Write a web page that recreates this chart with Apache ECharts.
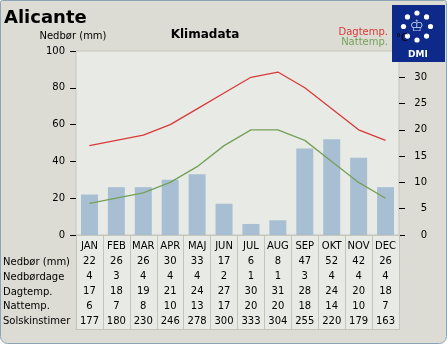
<!DOCTYPE html>
<html>
<head>
<meta charset="utf-8">
<script src="https://cdn.jsdelivr.net/npm/echarts@6/dist/echarts.min.js"></script>
<style>
html,body{margin:0;padding:0;background:#ffffff;}
#c{width:447px;height:344px;}
</style>
</head>
<body>
<div id="c"></div>
<script>
const months = ['JAN','FEB','MAR','APR','MAJ','JUN','JUL','AUG','SEP','OKT','NOV','DEC'];
const rain = [22,26,26,30,33,17,6,8,47,52,42,26];
const rainDays = [4,3,4,4,4,2,1,1,3,4,4,4];
const dayTemp = [17,18,19,21,24,27,30,31,28,24,20,18];
const nightTemp = [6,7,8,10,13,17,20,20,18,14,10,7];
const sunHours = [177,180,230,246,278,300,333,304,255,220,179,163];
const rowLabels = ['Nedbør (mm)','Nedbørdage','Dagtemp.','Nattemp.','Solskinstimer'];
const leftTicks = [0,20,40,60,80,100];
const rightTicks = [0,5,10,15,20,25,30];

const font = 'DejaVu Sans';
const chart = echarts.init(document.getElementById('c'), null, {renderer:'canvas'});

const graphics = [
  {type:'rect', z:-100, shape:{x:0.5,y:0.5,width:446,height:343,r:[2,2,7,7]},
   style:{fill:'#dcdcd4', stroke:'#8ea3b7', lineWidth:1}},
  {type:'rect', z:-50, shape:{x:76,y:235,width:323,height:94},
   style:{fill:'#e8eae5'}},
  {type:'line', z:5, shape:{x1:75,y1:329.5,x2:400,y2:329.5},
   style:{stroke:'#c4c4ba', lineWidth:1}},
  {type:'text', x:4, y:18, style:{text:'Alicante', font:'bold 18px "DejaVu Sans"', fill:'#000', verticalAlign:'middle'}},
  {type:'text', x:205, y:35, style:{text:'Klimadata', font:'bold 12px "DejaVu Sans"', fill:'#000', align:'center', verticalAlign:'middle'}},
  {type:'text', x:73, y:36, style:{text:'Nedbør (mm)', font:'10px "DejaVu Sans"', fill:'#000', align:'center', verticalAlign:'middle'}},
  {type:'text', x:388, y:32, style:{text:'Dagtemp.', font:'10px "DejaVu Sans"', fill:'#d83a3a', align:'right', verticalAlign:'middle'}},
  {type:'text', x:388, y:42, style:{text:'Nattemp.', font:'10px "DejaVu Sans"', fill:'#74a058', align:'right', verticalAlign:'middle'}},
  // DMI logo
  {type:'rect', z:1, shape:{x:392,y:5,width:53,height:57}, style:{fill:'#0d2a8a'}},
  {type:'text', z:3, x:418, y:55, style:{text:'DMI', font:'bold 9px "DejaVu Sans"', fill:'#fff', align:'center', verticalAlign:'middle'}},
  {type:'text', z:3, x:417, y:27, style:{text:'♔', font:'16px "DejaVu Sans"', fill:'#c8d4f0', align:'center', verticalAlign:'middle'}},
  {type:'text', z:4, x:402, y:38, style:{text:'°C', font:'10px "DejaVu Sans"', fill:'#000', align:'center', verticalAlign:'middle'}}
];
for (let k = 0; k < 8; k++) {
  const a = k * Math.PI / 4;
  graphics.push({type:'circle', z:3, shape:{cx:417 + 13.5*Math.sin(a), cy:26.5 - 13.5*Math.cos(a), r:2.6}, style:{fill:'#ffffff'}});
}
const rowY = [262,277,292,306,321];
rowLabels.forEach((t,i)=>{
  graphics.push({type:'text', x:3, y:rowY[i], style:{text:t, font:'10px "DejaVu Sans"', fill:'#000', verticalAlign:'middle'}});
});

chart.setOption({
  animation:false,
  textStyle:{fontFamily:font},
  grid:{left:76, right:48, top:51, bottom:109, show:true, backgroundColor:'#e8eae5', borderColor:'#c6c6bc', borderWidth:1},
  graphic:graphics,
  xAxis:{
    type:'category', data:months,
    axisLine:{show:true, lineStyle:{color:'#c6c6bc'}},
    axisTick:{show:true, interval:0, length:94, lineStyle:{color:'#c4c4ba'}},
    axisLabel:{
      interval:0, margin:4, fontSize:10, color:'#000', lineHeight:15, fontFamily:font,
      formatter:(v,i)=>[v, rain[i], rainDays[i], dayTemp[i], nightTemp[i], sunHours[i]].join('\n')
    }
  },
  yAxis:[
    {type:'value', min:0, max:100, interval:20, position:'left',
     axisLine:{show:false}, splitLine:{show:false},
     axisTick:{show:true, length:6, lineStyle:{color:'#000'}},
     axisLabel:{margin:11, fontSize:10, color:'#000', fontFamily:font}},
    {type:'value', min:0, max:35, interval:5, position:'right',
     axisLine:{show:false}, splitLine:{show:false},
     axisTick:{show:true, length:6, lineStyle:{color:'#000'}, customValues:rightTicks},
     axisLabel:{margin:28, align:'right', fontSize:10, color:'#000', fontFamily:font, customValues:rightTicks}}
  ],
  series:[
    {type:'bar', data:rain, yAxisIndex:0, barWidth:17, itemStyle:{color:'#a8bfd3'}, z:2},
    {type:'line', data:dayTemp, yAxisIndex:1, symbol:'none', lineStyle:{color:'#d83a3a', width:1.3}, z:3},
    {type:'line', data:nightTemp, yAxisIndex:1, symbol:'none', lineStyle:{color:'#74a058', width:1.3}, z:3}
  ]
});
</script>
</body>
</html>
